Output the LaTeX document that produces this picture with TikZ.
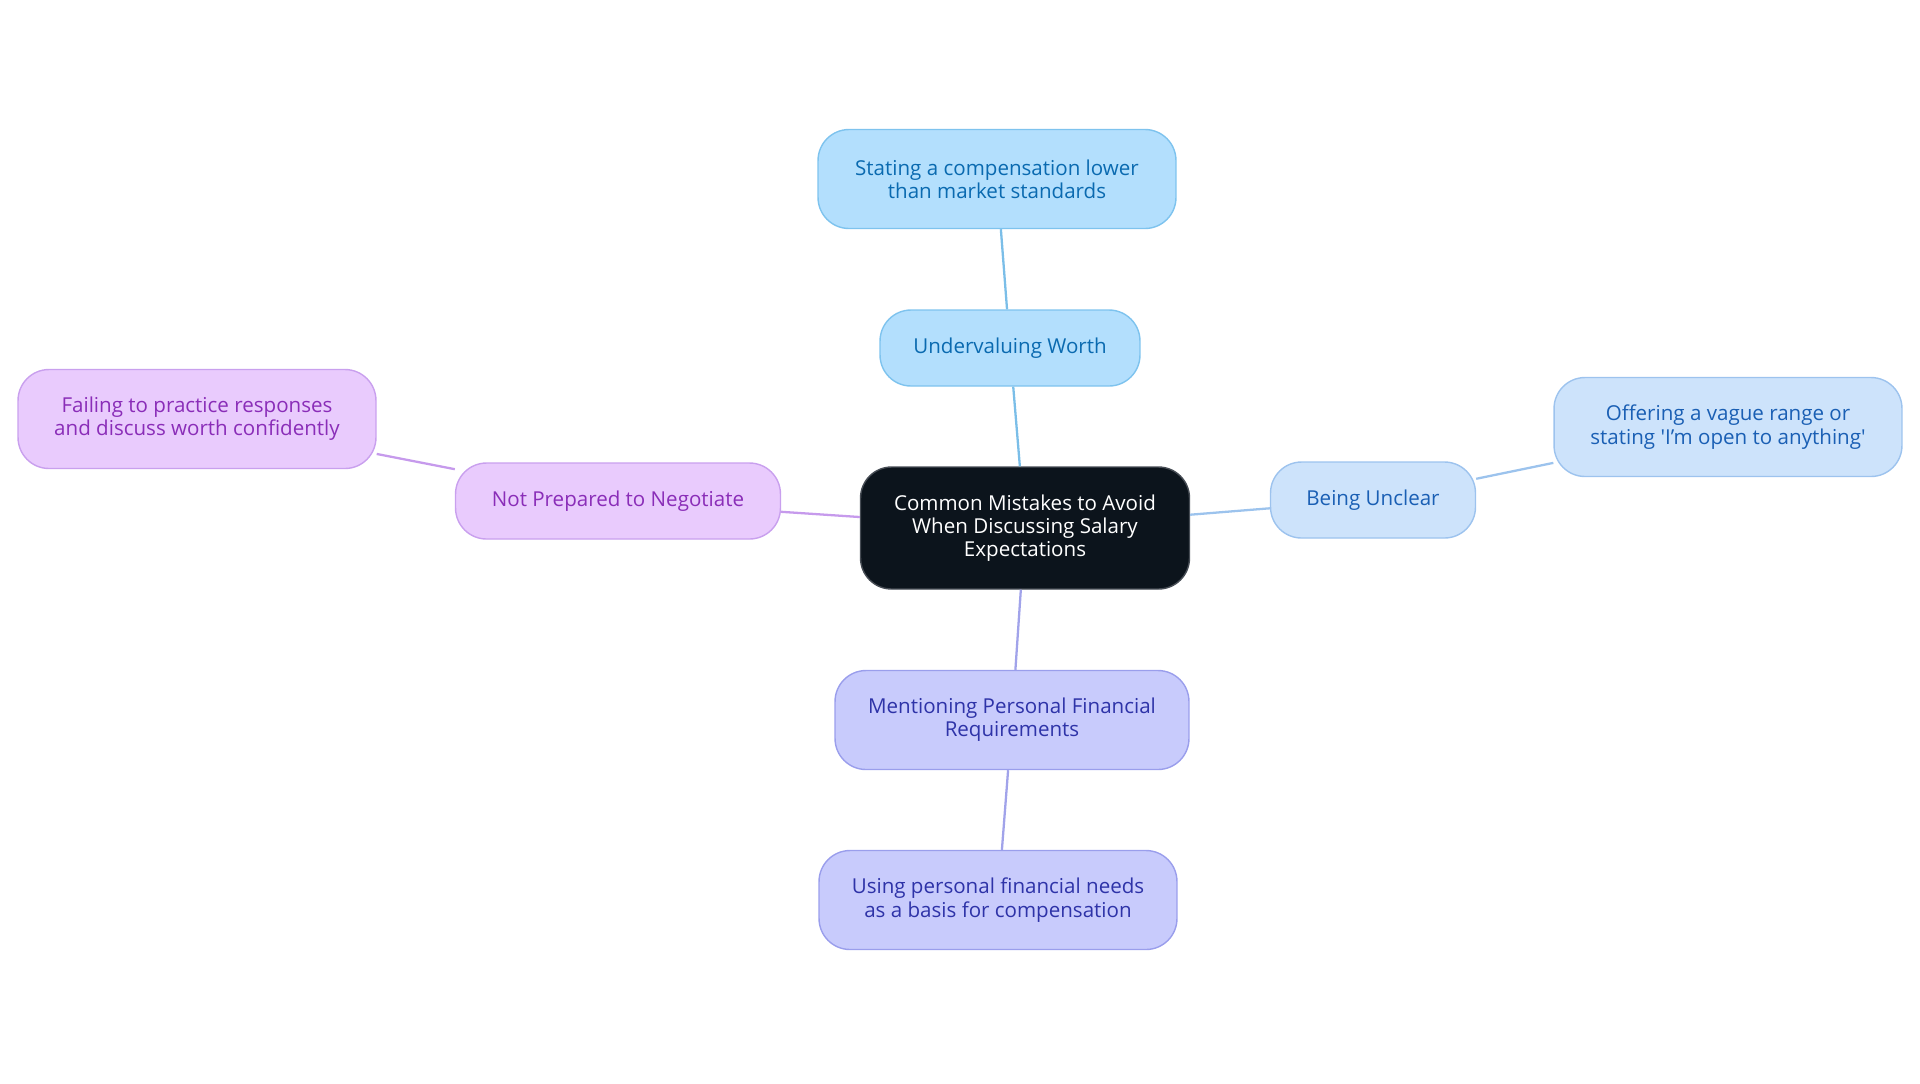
\documentclass[tikz,border=0pt]{standalone}
\usepackage{fontspec}
\setmainfont{Open Sans}
\usepackage{xcolor}
\usepackage{tikz}
\definecolor{rootfill}{RGB}{12,20,28}
\definecolor{rootdraw}{RGB}{70,76,84}
\definecolor{skyfill}{RGB}{179,223,253}
\definecolor{skydraw}{RGB}{126,195,238}
\definecolor{skytext}{RGB}{10,106,176}
\definecolor{skyline}{RGB}{123,190,232}
\definecolor{palefill}{RGB}{205,227,251}
\definecolor{paledraw}{RGB}{157,195,238}
\definecolor{paletext}{RGB}{26,95,180}
\definecolor{paleline}{RGB}{156,195,237}
\definecolor{lilacfill}{RGB}{233,203,253}
\definecolor{lilacdraw}{RGB}{201,160,238}
\definecolor{lilactext}{RGB}{138,45,184}
\definecolor{lilacline}{RGB}{198,154,236}
\definecolor{indfill}{RGB}{200,203,252}
\definecolor{inddraw}{RGB}{154,158,236}
\definecolor{indtext}{RGB}{46,51,168}
\definecolor{indline}{RGB}{161,163,234}

\begin{document}
\begin{tikzpicture}[
  x=0.02cm, y=-0.02cm,
  every node/.style={font=\fontsize{11.7}{13.2}\selectfont, align=center, rounded corners=0.62cm, line width=0.8pt},
  root/.style={draw=rootdraw, fill=rootfill, text=white, minimum width=6.58cm, minimum height=2.44cm},
  sky/.style={draw=skydraw, fill=skyfill, text=skytext},
  pale/.style={draw=paledraw, fill=palefill, text=paletext},
  lilac/.style={draw=lilacdraw, fill=lilacfill, text=lilactext},
  ind/.style={draw=inddraw, fill=indfill, text=indtext},
  branch/.style={minimum height=1.52cm},
  leaf/.style={minimum width=7.16cm, minimum height=1.98cm},
  link/.style={line width=1.3pt}
]
\useasboundingbox (0,0) rectangle (1920,1083);

\node[root] (root) at (1025,528) {Common Mistakes to Avoid\\When Discussing Salary\\Expectations};

\node[sky, branch, minimum width=5.2cm] (worth) at (1010,348) {Undervaluing Worth};
\node[sky, leaf] (lower) at (997,179) {Stating a compensation lower\\than market standards};

\node[pale, branch, minimum width=4.1cm] (unclear) at (1373,500) {Being Unclear};
\node[pale, leaf, minimum width=6.96cm] (vague) at (1728,427) {Offering a vague range or\\stating \textquotesingle I’m open to anything\textquotesingle};

\node[lilac, branch, minimum width=6.5cm] (negotiate) at (618,501) {Not Prepared to Negotiate};
\node[lilac, leaf] (practice) at (197,419) {Failing to practice responses\\and discuss worth confidently};

\node[ind, leaf, minimum width=7.08cm] (needs) at (1012,720) {Mentioning Personal Financial\\Requirements};
\node[ind, leaf] (basis) at (998,900) {Using personal financial needs\\as a basis for compensation};

\draw[link, skyline] (root) -- (worth);
\draw[link, skyline] (worth) -- (lower);
\draw[link, paleline] (root) -- (unclear);
\draw[link, paleline] (unclear) -- (vague);
\draw[link, lilacline] (root) -- (negotiate);
\draw[link, lilacline] (negotiate) -- (practice);
\draw[link, indline] (root) -- (needs);
\draw[link, indline] (needs) -- (basis);
\end{tikzpicture}
\end{document}
